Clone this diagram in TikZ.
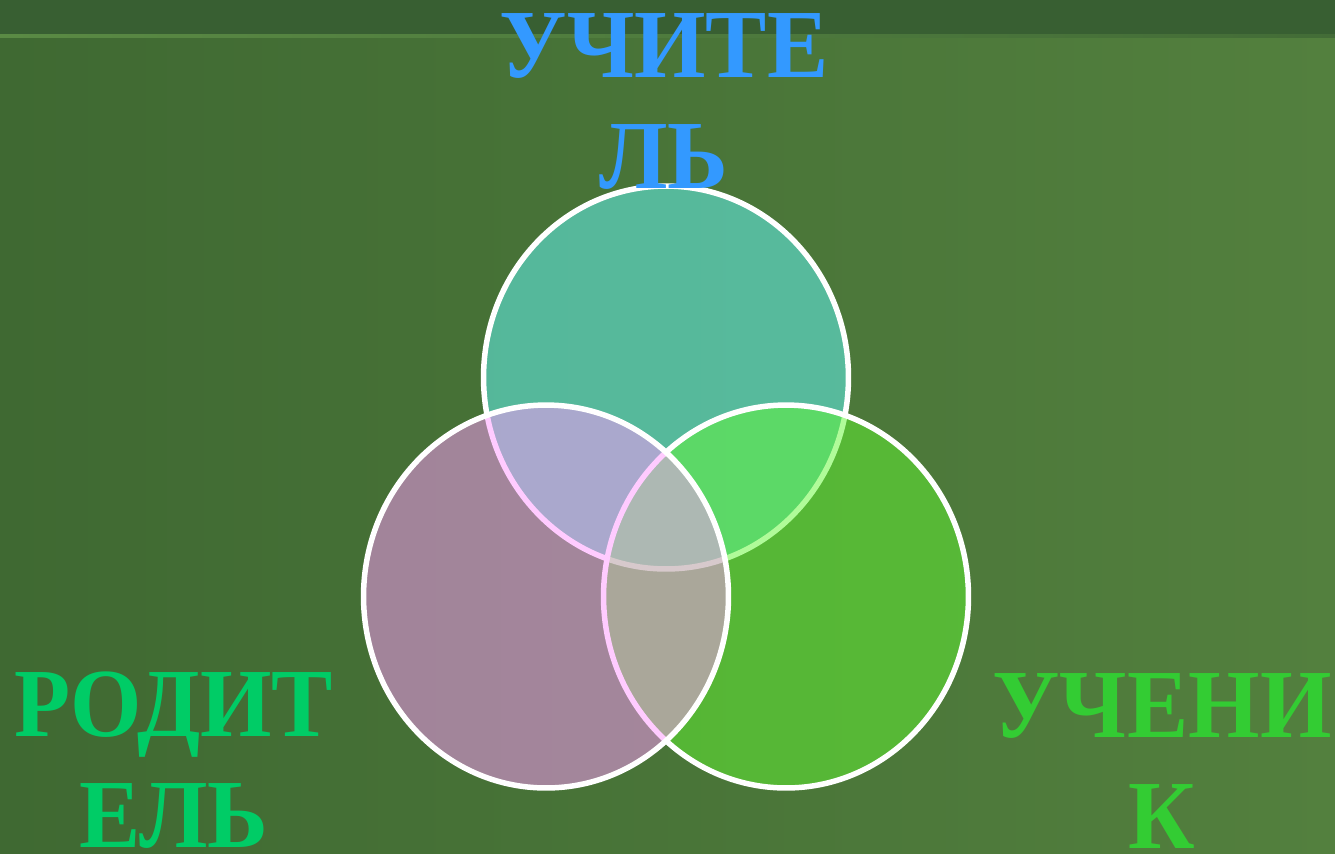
\documentclass[tikz,border=0pt]{standalone}
\usepackage{fontspec}
\setmainfont[FakeStretch=0.94]{Liberation Serif}
\usetikzlibrary{shapes.geometric}
\definecolor{bgleft}{RGB}{63,105,50}
\definecolor{bgright}{RGB}{83,128,62}
\definecolor{band}{RGB}{56,95,50}
\definecolor{bandline}{RGB}{90,138,68}
\definecolor{aqua}{RGB}{100,254,255}
\definecolor{lime}{RGB}{98,248,52}
\definecolor{orchid}{RGB}{255,153,255}
\definecolor{sky}{RGB}{51,153,255}
\definecolor{jade}{RGB}{0,204,102}
\definecolor{grass}{RGB}{51,204,51}
\tikzset{
  ring/.style={ellipse,draw=white,line width=0.11cm,fill=#1,fill opacity=0.5,
    inner sep=0pt,minimum width=7.3cm,minimum height=7.66cm},
  ring/.default=aqua,
  word/.style={text=#1,font=\fontsize{55.6}{63}\selectfont\bfseries,
    align=center,inner sep=0pt,anchor=base},
  word/.default=sky,
}
\begin{document}
\begin{tikzpicture}[x=0.02cm,y=-0.02cm]
  \useasboundingbox (0,0) rectangle (1335,853);
  % background
  \shade[left color=bgleft,right color=bgright] (0,0) rectangle (1335,853);
  \fill[band] (0,0) rectangle (1335,34);
  \shade[left color=bandline,right color=band!60!bgright] (0,34) rectangle (1335,37.5);
  % circles: top, right, left
  \node[ring=aqua] (cteacher) at (666,377.5) {};
  \node[ring=lime] (cpupil) at (786,596.5) {};
  \node[ring=orchid] (cparent) at (546,596.5) {};
  % labels (anchored at the baseline of the last line)
  \node[word=sky] (lteacher) at (664,188) {УЧИТЕ\\ЛЬ};
  \node[word=jade] (lparent) at (174,847) {РОДИТ\\ЕЛЬ};
  \node[word=grass] (lpupil) at (1162,848) {УЧЕНИ\\К};
\end{tikzpicture}
\end{document}
